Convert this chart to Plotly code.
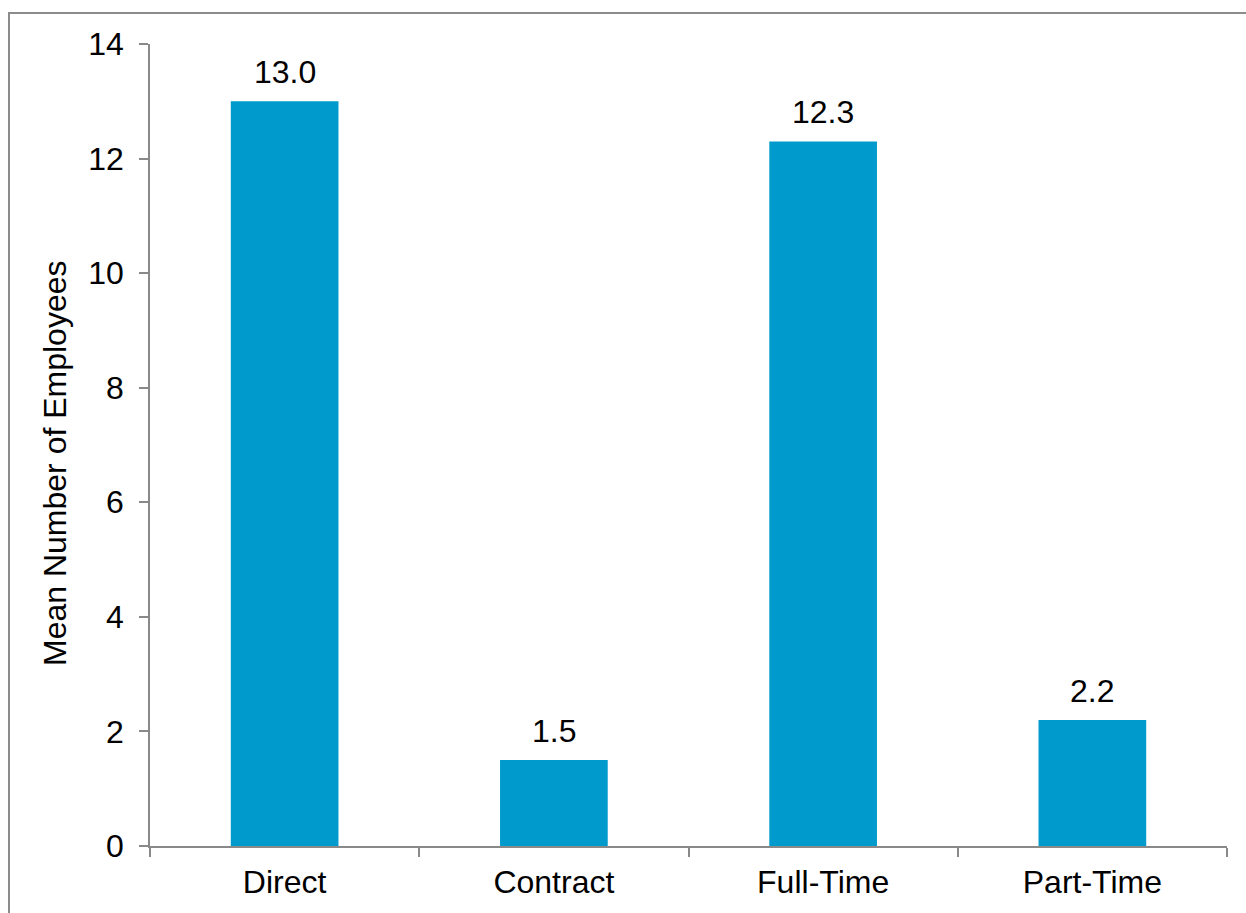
import plotly.graph_objects as go

categories = ["Direct", "Contract", "Full-Time", "Part-Time"]
values = [13.0, 1.5, 12.3, 2.2]
labels = ["13.0", "1.5", "12.3", "2.2"]
y_ticks = [0, 2, 4, 6, 8, 10, 12, 14]

W, H = 1246, 913
L, R, T, B = 150, 19, 44, 67
pw = W - L - R
ph = H - T - B

def px_x(px):
    return (px - L) / pw

def px_y(py):
    return (H - B - py) / ph

FONT = "Liberation Sans, Arial, sans-serif"
AX = "#898989"
FS = 32

fig = go.Figure()
fig.add_trace(go.Bar(
    x=categories, y=values,
    marker=dict(color="#009BCC", line=dict(width=0)),
    width=0.4,
    hoverinfo="skip",
))

for c, v, t in zip(categories, values, labels):
    fig.add_annotation(x=c, y=v, text=t, showarrow=False, xref="x", yref="y",
                       yanchor="bottom", yshift=9,
                       font=dict(family=FONT, size=FS, color="black"))

fig.add_annotation(x=px_x(55), y=px_y(463), xref="paper", yref="paper",
                   text="Mean Number of Employees", textangle=-90, showarrow=False,
                   xanchor="center", yanchor="middle",
                   font=dict(family=FONT, size=FS, color="black"))

fig.add_shape(type="rect", xref="paper", yref="paper",
              x0=px_x(9), x1=px_x(1260), y0=px_y(930), y1=px_y(13),
              line=dict(color="#8c8c8c", width=2), fillcolor="rgba(0,0,0,0)", layer="below")

fig.update_layout(
    width=W, height=H,
    margin=dict(l=L, r=R, t=T, b=B, pad=0),
    paper_bgcolor="white", plot_bgcolor="white",
    showlegend=False,
    font=dict(family=FONT, size=FS, color="black"),
    bargap=0.6,
)
fig.update_xaxes(
    type="category", showline=True, linecolor=AX, linewidth=1.5,
    ticks="outside", tickson="boundaries", ticklen=9, tickcolor=AX, tickwidth=1.5,
    showgrid=False, zeroline=False, ticklabelstandoff=7,
    tickfont=dict(family=FONT, size=FS, color="black"),
)
fig.update_yaxes(
    range=[0, 14], tickvals=y_ticks, showline=True, linecolor=AX, linewidth=1.5,
    ticks="outside", ticklen=9, tickcolor=AX, tickwidth=1.5,
    showgrid=False, zeroline=False, ticklabelstandoff=9,
    tickfont=dict(family=FONT, size=FS, color="black"),
)

fig.write_html("out.html")
